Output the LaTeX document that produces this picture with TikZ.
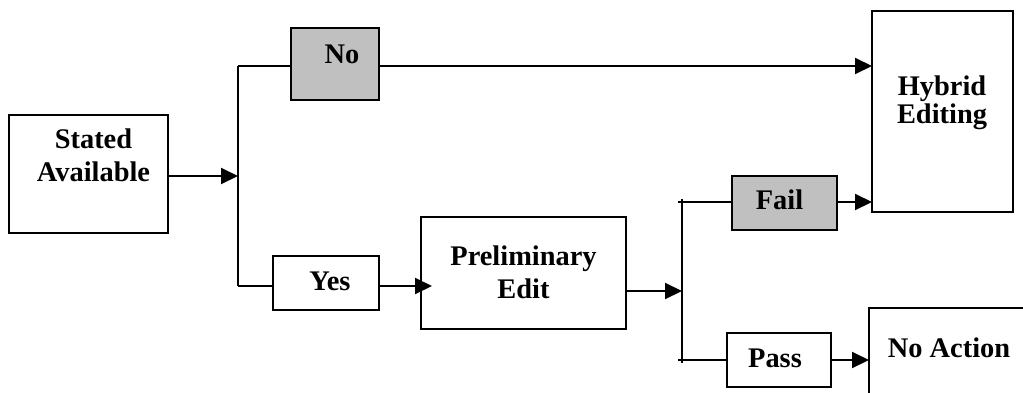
\documentclass[tikz,border=0pt]{standalone}
\usepackage{fontspec}
\setmainfont{Liberation Serif}
\usetikzlibrary{arrows.meta}
\definecolor{boxgray}{RGB}{192,192,192}
\tikzset{
  box/.style={draw=black, line width=1pt, rectangle, inner sep=0pt, outer sep=0pt},
  grayfill/.style={fill=boxgray},
  txt/.style={font=\bfseries\fontsize{14.2}{16.5}\selectfont, align=center, inner sep=0pt},
  tighttxt/.style={font=\bfseries\fontsize{14.2}{11.5}\selectfont, align=center, inner sep=0pt},
  conn/.style={line width=1pt},
  arr/.style={conn, -{Triangle[length=8.5pt,width=8pt]}},
}
% name, x1, y1, x2, y2 (pixels), extra style
\newcommand\pxbox[6]{\node[box,#6,minimum width={(#4-#2)*0.5pt},minimum height={(#5-#3)*0.5pt}] (#1) at ({(#2+#4)/2},{(#3+#5)/2}) {};}
\begin{document}
\begin{tikzpicture}[x=0.5pt,y=-0.5pt]
\useasboundingbox (0,0) rectangle (1023,392);
\clip (0,0) rectangle (1023,392);

% boxes
\pxbox{sa}{9}{115}{168}{233}{}
\pxbox{no}{291}{28}{379}{100}{grayfill}
\pxbox{hyb}{872}{11}{1013}{212}{}
\pxbox{yes}{273}{256}{379}{310}{}
\pxbox{prelim}{421}{217}{626}{329}{}
\pxbox{fail}{732}{176}{837}{230}{grayfill}
\pxbox{pass}{727}{333}{831}{387}{}
\pxbox{noact}{869}{308}{1060}{420}{}

% texts
\node[txt] (satxt) at (93.5,155) {Stated\\Available};
\node[txt, anchor=base] (notxt) at (342,63) {No};
\node[tighttxt] (hybtxt) at (942,102.5) {Hybrid\\Editing};
\node[txt, anchor=base] (yestxt) at (330,290) {Yes};
\node[txt] (prelimtxt) at (523.5,272) {Preliminary\\Edit};
\node[txt, anchor=base] (failtxt) at (779.5,209) {Fail};
\node[txt, anchor=base] (passtxt) at (775,367) {Pass};
\node[txt, anchor=base] (noacttxt) at (949,357) {No Action};

% first branch
\coordinate (j1) at (238,176);
\coordinate (j1t) at (238,66);
\coordinate (j1b) at (238,286);
\draw[arr] (sa.east |- j1) -- (j1);
\draw[conn] (j1t) -- (j1b);
\draw[conn] (j1t) -- (j1t -| no.west);
\draw[arr] (j1t -| no.east) -- (j1t -| hyb.west);
\draw[conn] (j1b) -- (j1b -| yes.west);
\draw[arr, shorten >=-5.5pt] (yes.east |- j1b) -- (j1b -| prelim.west);

% second branch
\coordinate (j2) at (682,291);
\coordinate (j2t) at (682,202);
\coordinate (j2b) at (682,360);
\draw[arr] (prelim.east |- j2) -- (j2);
\draw[conn, shorten <=-1.5pt, shorten >=-1.5pt] (j2t) -- (j2b);
\draw[conn, shorten <=-2pt] (j2t) -- (j2t -| fail.west);
\draw[conn, shorten <=-2pt] (j2b) -- (j2b -| pass.west);
\draw[arr] (j2t -| fail.east) -- (j2t -| hyb.west);
\draw[arr] (j2b -| pass.east) -- (j2b -| noact.west);
\end{tikzpicture}
\end{document}
